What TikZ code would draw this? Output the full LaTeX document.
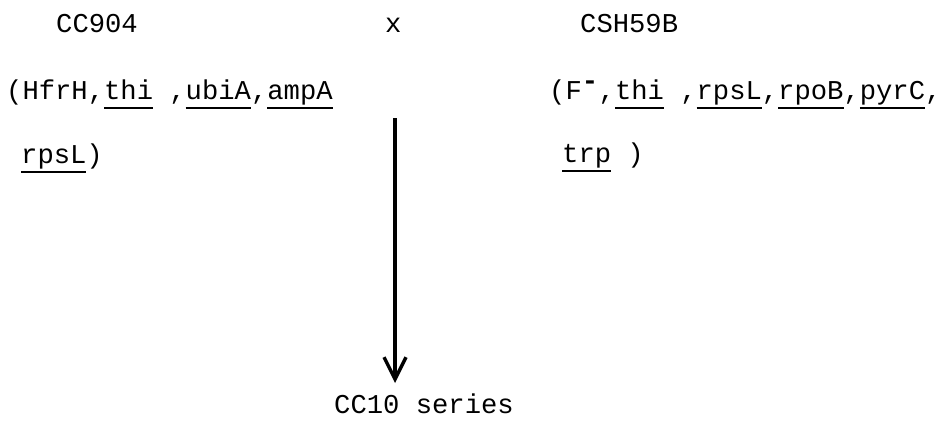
\documentclass[tikz,border=0pt]{standalone}
\usepackage{fontspec}
\setmainfont{Liberation Mono}
\usetikzlibrary{arrows.meta}
\newcommand\gn[1]{\setbox0\hbox{#1}\rlap{\rule[-9.5pt]{\wd0}{1.8pt}}\box0\relax}
\tikzset{
  lbl/.style={anchor=base west, inner sep=0pt, font=\fontsize{27.2}{30}\selectfont},
  arr/.style={line width=3.2pt, -{Straight Barb[length=22pt,width=22pt,line width=3.4pt]}}
}
\begin{document}
\begin{tikzpicture}[x=1pt,y=-1pt]
\useasboundingbox (0,0) rectangle (941,421);
\node[lbl] (a) at (56,32) {CC904};
\node[lbl] (x) at (385,32) {x};
\node[lbl] (b) at (580,32) {CSH59B};
\node[lbl] (a2) at (6,99) {(HfrH,\gn{thi} ,\gn{ubiA},\gn{ampA}};
\node[lbl] (a3) at (21,163) {\gn{rpsL})};
\node[lbl] (b2) at (549,99) {(F$^{\textbf{-}}$,\gn{thi} ,\gn{rpsL},\gn{rpoB},\gn{pyrC},};
\node[lbl] (b3) at (562,162) {\gn{trp} )};
\node[lbl] (c) at (334,413) {CC10 series};
\coordinate (top) at (395,118);
\coordinate (tip) at (395,383);
\draw[arr] (top) -- (tip);
\end{tikzpicture}
\end{document}
